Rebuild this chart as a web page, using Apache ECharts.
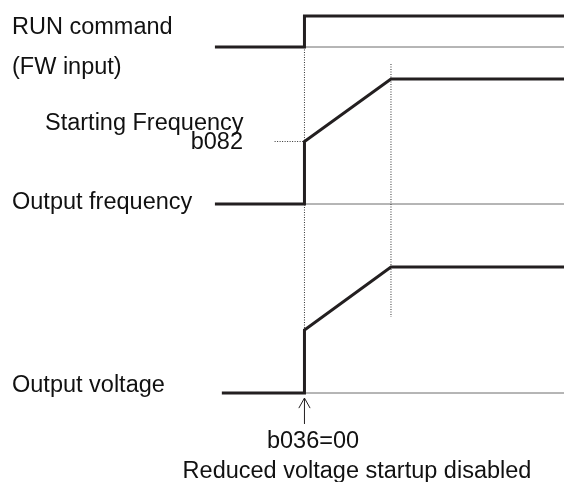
<!DOCTYPE html>
<html>
<head>
<meta charset="utf-8">
<script src="https://cdn.jsdelivr.net/npm/echarts@6/dist/echarts.min.js"></script>
<style>
html,body{margin:0;padding:0;background:#fff;}
#c{width:564px;height:482px;}
</style>
</head>
<body>
<div id="c"></div>
<script>
// ---- Data (time in arbitrary units, levels normalized 0..1) ----
var runTime   = [-0.35, 10, 10, 40];
var runLevel  = [0, 0, 1, 1];
var freqTime  = [-0.35, 10, 10, 20, 40];
var freqLevel = [0, 0, 0.5, 1, 1];
var voltTime  = [0.45, 10, 10, 20, 40];
var voltLevel = [0, 0, 0.5, 1, 1];
var idleTime  = [10, 40];          // thin baseline after the step
var idleLevel = [0, 0];
// guide lines (freq-axis units)
var guide1Time = [10, 10];
var guide1Level = [1.256, -1.008];
var guide2Time = [20, 20];
var guide2Level = [1.12, -0.904];
var b082Time = [6.55, 10];
var b082Level = [0.5, 0.5];
// arrow (volt-axis units)
var arrowShaftTime = [10, 10];
var arrowShaftLevel = [-0.04, -0.246];
var arrowHeadTime = [9.35, 10, 10.65];
var arrowHeadLevel = [-0.12, -0.04, -0.12];

var labels = ["RUN command", "(FW input)", "Starting Frequency", "b082", "Output frequency", "Output voltage", "b036=00", "Reduced voltage startup disabled"];

function zip(a, b) { return a.map(function (v, i) { return [v, b[i]]; }); }

// ---- Layout ----
var H = 482;
function yRange(base, high) {
  var unit = base - high;
  return { min: -(H - base) / unit, max: base / unit };
}
var rRun = yRange(47, 16), rFreq = yRange(204, 79), rVolt = yRange(393, 267);
var INK = '#231f20';
var FONT = '"Liberation Sans", Arial, sans-serif';

function yAx(r) {
  return { type: 'value', min: r.min, max: r.max, show: false, gridIndex: 0 };
}
function sig(data, yi, w, color, dash) {
  return {
    type: 'line', data: data, xAxisIndex: 0, yAxisIndex: yi,
    symbol: 'none', silent: true, animation: false, clip: false,
    lineStyle: { width: w, color: color, type: dash || 'solid', cap: 'butt', join: 'miter' },
    z: w > 2 ? 5 : 3
  };
}

var chart = echarts.init(document.getElementById('c'), null, { renderer: 'canvas' });
var T = function (txt, x, baseline, align) {
  return { type: 'text', x: x, y: baseline - 17, silent: true,
    style: { text: txt, fill: '#111', font: '23.5px ' + FONT, textAlign: align || 'left', textVerticalAlign: 'top' } };
};
chart.setOption({
  backgroundColor: '#fff',
  animation: false,
  grid: [{ left: 209.3, width: 356.7, top: 0, height: H, containLabel: false }],
  xAxis: [{ type: 'value', min: -1, max: 40, show: false, gridIndex: 0 }],
  yAxis: [yAx(rRun), yAx(rFreq), yAx(rVolt)],
  series: [
    sig(zip(idleTime, idleLevel), 0, 1, '#6d6d6d'),
    sig(zip(idleTime, idleLevel), 1, 1, '#6d6d6d'),
    sig(zip(idleTime, idleLevel), 2, 1, '#6d6d6d'),
    sig(zip(guide1Time, guide1Level), 1, 1, '#333', [1, 1.5]),
    sig(zip(guide2Time, guide2Level), 1, 1, '#333', [1, 1.5]),
    sig(zip(b082Time, b082Level), 1, 1, '#333', [1, 1.5]),
    sig(zip(runTime, runLevel), 0, 3, INK),
    sig(zip(freqTime, freqLevel), 1, 3, INK),
    sig(zip(voltTime, voltLevel), 2, 3, INK),
    sig(zip(arrowShaftTime, arrowShaftLevel), 2, 1, INK),
    sig(zip(arrowHeadTime, arrowHeadLevel), 2, 1, INK)
  ],
  graphic: [
    T(labels[0], 12, 33),
    T(labels[1], 12, 73),
    T(labels[2], 45, 129),
    T(labels[3], 243, 148, 'right'),
    T(labels[4], 12, 208),
    T(labels[5], 12, 391),
    T(labels[6], 313, 447, 'center'),
    T(labels[7], 357, 477, 'center')
  ]
});
</script>
</body>
</html>
